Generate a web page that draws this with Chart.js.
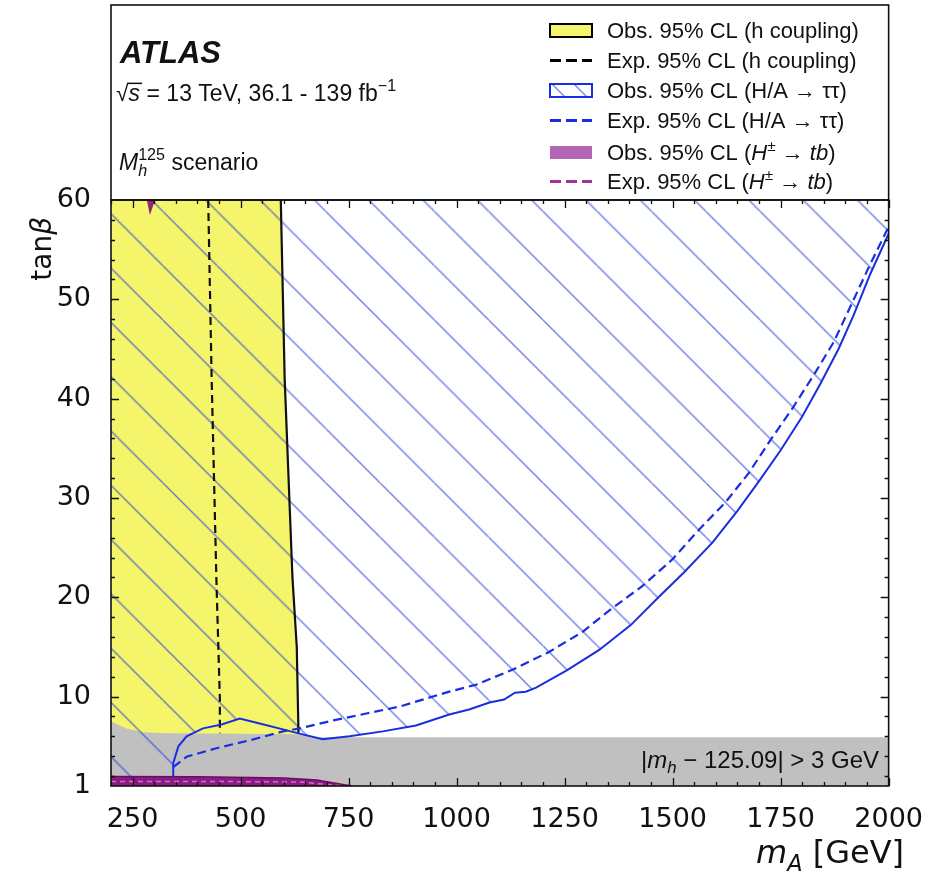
<!DOCTYPE html>
<html>
<head>
<meta charset="utf-8">
<script src="https://cdn.jsdelivr.net/npm/chart.js@4.4.0/dist/chart.umd.min.js"></script>
<style>
  body { margin: 0; background: #fff; }
  #wrap { width: 933px; height: 872px; }
</style>
</head>
<body>
<div id="wrap"><canvas id="limits"></canvas></div>
<script>
// axis ticks
const xTicks = [250, 500, 750, 1000, 1250, 1500, 1750, 2000];
const yTicks = [1, 10, 20, 30, 40, 50, 60];

// h coupling, observed (yellow region is left of this edge)
const hcObsMA   = [200, 593, 602, 620, 630, 634];
const hcObsTanb = [60, 60, 42, 22, 15, 6.3];
// h coupling, expected
const hcExpMA   = [425, 433, 444, 452, 452];
const hcExpTanb = [60, 42, 21.7, 9.7, 6.3];

// |mh - 125.09| > 3 GeV region, upper edge
const mhMA   = [200, 236, 274, 330, 500, 634, 680, 2000];
const mhTanb = [7.5, 6.8, 6.4, 6.3, 6.25, 6.2, 5.9, 5.9];

// H/A -> tautau, observed
const ttObsMA   = [344, 344, 356, 375, 413, 456, 498, 544, 598, 634, 690, 752, 829, 906, 983, 1029, 1076, 1110, 1135, 1160, 1184, 1257, 1330, 1403, 1465, 1526, 1592, 1650, 1700, 1750, 1800, 1842, 1884, 1919, 1958, 2000];
const ttObsTanb = [1.9, 3.3, 5.0, 6.0, 6.8, 7.2, 7.8, 7.3, 6.7, 6.3, 5.7, 6.0, 6.5, 7.1, 8.2, 8.7, 9.4, 9.7, 10.4, 10.5, 10.9, 12.7, 14.7, 17.2, 19.9, 22.5, 25.5, 28.7, 31.7, 34.8, 38.2, 41.5, 45.0, 48.4, 52.6, 56.6];
// H/A -> tautau, expected
const ttExpMA   = [344, 375, 444, 521, 598, 637, 714, 791, 868, 983, 1045, 1129, 1214, 1291, 1360, 1429, 1499, 1561, 1623, 1676, 1726, 1780, 1827, 1873, 1915, 1958, 2000];
const ttExpTanb = [2.9, 3.95, 4.8, 5.6, 6.5, 6.8, 7.6, 8.3, 9.0, 10.5, 11.2, 12.7, 14.5, 16.5, 18.9, 21.1, 23.8, 26.8, 29.6, 32.5, 35.8, 39.2, 42.4, 45.7, 49.6, 53.6, 57.3];

// H+- -> tb, observed (band at low tanb and a sliver at the top)
const hpObsMA   = [200, 400, 600, 676, 713, 740, 760];
const hpObsTanb = [1.95, 1.92, 1.8, 1.6, 1.33, 1.12, 1.0];
const hpTopMA   = [283, 290, 302];
const hpTopTanb = [60, 58.5, 60];
// H+- -> tb, expected
const hpExpMA   = [200, 450, 640, 700, 740];
const hpExpTanb = [1.45, 1.45, 1.4, 1.15, 1.0];

const YELLOW = '#f5f56b';
const GREY = '#c0c0c0';
const BLUE = '#1a2ee0';
const PURPLE = 'rgba(128,0,120,0.85)';
const PURPLE_LIGHT = '#b464b4';
const PURPLE_DASH = '#a0309a';
const HATCH = 'rgba(30,60,220,0.65)';

const pts = (xs, ys) => xs.map((x, i) => ({ x: x, y: ys[i] }));

function makeHatch() {
  const s = 54;
  const c = document.createElement('canvas');
  c.width = s; c.height = s;
  const g = c.getContext('2d');
  g.strokeStyle = HATCH;
  g.lineWidth = 1.4;
  for (let k = -1; k <= 1; k++) {
    g.beginPath();
    g.moveTo(k * s, 0);
    g.lineTo(k * s + s, s);
    g.stroke();
  }
  const p = g.createPattern(c, 'repeat');
  p.setTransform(new DOMMatrix([54.3 / s, 0, 0, 54.3 / s, 0, 48.5]));
  return p;
}

// draws a row of text pieces (italic, sub/superscript...) and returns width
function runs(ctx, x, y, parts, size, family, align) {
  const fontOf = p => (p.i ? 'italic ' : '') + (p.b ? 'bold ' : '') + (size * (p.s || 1)).toFixed(1) + 'px ' + family;
  let cx = 0, last = 0;
  const pos = parts.map(p => {
    ctx.font = fontOf(p);
    const w = ctx.measureText(p.t).width;
    const sx = p.over ? last : cx;
    last = sx;
    cx = Math.max(cx, sx + w);
    return { sx: sx, w: w };
  });
  const x0 = align === 'right' ? x - cx : x;
  ctx.textAlign = 'left';
  ctx.textBaseline = 'alphabetic';
  parts.forEach((p, i) => {
    ctx.font = fontOf(p);
    ctx.fillText(p.t, x0 + pos[i].sx, y + (p.dy || 0) * size);
    if (p.bar) ctx.fillRect(x0 + pos[i].sx - 1, y - 0.8 * size, pos[i].w + 3, 1.5);
  });
  return cx;
}

const legendRows = [
  { kind: 'box', fill: YELLOW, edge: '#000', text: [{ t: 'Obs. 95% CL (h coupling)' }] },
  { kind: 'dash', edge: '#000', text: [{ t: 'Exp. 95% CL (h coupling)' }] },
  { kind: 'hatch', edge: BLUE, text: [{ t: 'Obs. 95% CL (H/A \u2192 \u03c4\u03c4)' }] },
  { kind: 'dash', edge: BLUE, text: [{ t: 'Exp. 95% CL (H/A \u2192 \u03c4\u03c4)' }] },
  { kind: 'box', fill: PURPLE_LIGHT, edge: null, text: [{ t: 'Obs. 95% CL (' }, { t: 'H', i: 1 }, { t: '\u00b1', s: 0.7, dy: -0.42 }, { t: ' \u2192 ' }, { t: 'tb', i: 1 }, { t: ')' }] },
  { kind: 'dash', edge: PURPLE_DASH, text: [{ t: 'Exp. 95% CL (' }, { t: 'H', i: 1 }, { t: '\u00b1', s: 0.7, dy: -0.42 }, { t: ' \u2192 ' }, { t: 'tb', i: 1 }, { t: ')' }] }
];
const legendY = [30, 60, 90, 120, 152, 181];

const decor = {
  id: 'decor',
  afterDraw(chart) {
    const { ctx, chartArea: a, scales: { x, y } } = chart;
    ctx.save();

    // inward ticks on all four sides
    ctx.strokeStyle = '#111';
    ctx.lineWidth = 1.3;
    ctx.beginPath();
    for (let v = 200; v <= 2000; v += 50) {
      const len = v % 250 === 0 ? 8 : 4;
      const px = Math.round(x.getPixelForValue(v)) + 0.5;
      ctx.moveTo(px, a.bottom); ctx.lineTo(px, a.bottom - len);
      ctx.moveTo(px, a.top); ctx.lineTo(px, a.top + len);
    }
    for (let v = 2; v < 60; v += 2) {
      const len = v % 10 === 0 ? 8 : 4;
      const py = Math.round(y.getPixelForValue(v)) + 0.5;
      ctx.moveTo(a.left, py); ctx.lineTo(a.left + len, py);
      ctx.moveTo(a.right, py); ctx.lineTo(a.right - len, py);
    }
    ctx.stroke();

    // frames: plot and legend panel
    ctx.lineWidth = 1.6;
    ctx.strokeRect(a.left, a.top, a.right - a.left, a.bottom - a.top);
    ctx.strokeRect(a.left, 5, a.right - a.left, a.top - 5);

    ctx.fillStyle = '#111';
    // ATLAS label
    runs(ctx, 120, 63, [{ t: 'ATLAS', b: 1, i: 1 }], 31, 'Liberation Sans');
    runs(ctx, 116, 101, [{ t: '\u221a' }, { t: 's', i: 1, bar: 1 }, { t: ' = 13 TeV, 36.1 - 139 fb' }, { t: '\u22121', s: 0.7, dy: -0.42 }], 23, 'Liberation Sans');
    runs(ctx, 119, 170, [{ t: 'M', i: 1 }, { t: 'h', i: 1, s: 0.7, dy: 0.28 }, { t: '125', s: 0.7, dy: -0.42, over: 1 }, { t: ' scenario' }], 23, 'Liberation Sans');

    // legend
    const hx = 550, hw = 42, tx = 607;
    legendRows.forEach((r, i) => {
      const cy = legendY[i];
      ctx.save();
      if (r.kind === 'box' || r.kind === 'hatch') {
        ctx.fillStyle = r.kind === 'box' ? r.fill : '#fff';
        ctx.fillRect(hx, cy - 6, hw, 13);
        if (r.kind === 'hatch') {
          ctx.strokeStyle = HATCH;
          ctx.lineWidth = 1.2;
          ctx.beginPath();
          ctx.moveTo(hx + 2, cy - 6); ctx.lineTo(hx + 15, cy + 7);
          ctx.moveTo(hx + 24, cy - 6); ctx.lineTo(hx + 37, cy + 7);
          ctx.stroke();
        }
        if (r.edge) {
          ctx.strokeStyle = r.edge;
          ctx.lineWidth = 2;
          ctx.strokeRect(hx, cy - 6, hw, 13);
        }
      } else {
        ctx.strokeStyle = r.edge;
        ctx.lineWidth = 3;
        ctx.setLineDash([11, 5]);
        ctx.beginPath();
        ctx.moveTo(hx, cy + 0.5); ctx.lineTo(hx + hw, cy + 0.5);
        ctx.stroke();
      }
      ctx.restore();
      ctx.fillStyle = '#111';
      runs(ctx, tx, cy + 8, r.text, 22, 'Liberation Sans');
    });

    // mh window label
    runs(ctx, 879, 768, [{ t: '|' }, { t: 'm', i: 1 }, { t: 'h', i: 1, s: 0.7, dy: 0.22 }, { t: ' \u2212 125.09| > 3 GeV' }], 24, 'Liberation Sans', 'right');

    // axis titles
    runs(ctx, 904, 863, [{ t: 'm', i: 1 }, { t: 'A', i: 1, s: 0.7, dy: 0.25 }, { t: ' [GeV]' }], 32, 'DejaVu Sans', 'right');
    ctx.translate(51, 217);
    ctx.rotate(-Math.PI / 2);
    runs(ctx, 0, 0, [{ t: 'tan' }, { t: '\u03b2', i: 1 }], 28, 'DejaVu Sans', 'right');

    ctx.restore();
  }
};

const fillSet = (data, fill, color, order) => ({
  data: data, fill: fill, backgroundColor: color,
  borderWidth: 0, borderColor: 'rgba(0,0,0,0)', pointRadius: 0, order: order
});
const lineSet = (data, color, width, dash, order) => ({
  data: data, fill: false, borderColor: color, borderWidth: width,
  borderDash: dash, pointRadius: 0, order: order
});

const hatchEdge = pts([200, 344], [1, 1]).concat(pts(ttObsMA, ttObsTanb));
const tickFont = { family: 'DejaVu Sans', size: 27 };

new Chart(document.getElementById('limits'), {
  type: 'line',
  data: {
    datasets: [
      fillSet(pts(hcObsMA, hcObsTanb), 'start', YELLOW, 10),
      fillSet(pts(mhMA, mhTanb), 'start', GREY, 9),
      fillSet(hatchEdge, 'end', makeHatch(), 8),
      Object.assign(fillSet(pts(hpObsMA, hpObsTanb), 'start', PURPLE, 7), { borderColor: '#6e0a66', borderWidth: 1.5 }),
      fillSet(pts(hpTopMA, hpTopTanb), 'end', PURPLE, 6),
      lineSet(pts(hpExpMA, hpExpTanb), '#d070c8', 1.5, [5, 4], 5),
      lineSet(pts(hcObsMA.slice(1), hcObsTanb.slice(1)), '#111', 2.2, [], 4),
      lineSet(pts(hcExpMA, hcExpTanb), '#111', 2.2, [8, 5], 3),
      lineSet(pts(ttExpMA, ttExpTanb), BLUE, 2.2, [9, 5], 2),
      lineSet(pts(ttObsMA, ttObsTanb), BLUE, 2, [], 1)
    ]
  },
  options: {
    responsive: true,
    maintainAspectRatio: false,
    animation: false,
    events: [],
    layout: { padding: { top: 200, right: 43, left: 0, bottom: 0 } },
    elements: { line: { tension: 0 }, point: { radius: 0 } },
    plugins: { legend: { display: false }, tooltip: { enabled: false } },
    scales: {
      x: {
        type: 'linear', min: 200, max: 2000,
        afterBuildTicks: s => { s.ticks = xTicks.map(v => ({ value: v })); },
        afterFit: s => { s.height = 86; },
        grid: { display: false }, border: { display: false },
        ticks: { font: tickFont, color: '#111', padding: 10, maxRotation: 0, autoSkip: false, callback: v => String(v) }
      },
      y: {
        type: 'linear', min: 1, max: 60,
        afterBuildTicks: s => { s.ticks = yTicks.map(v => ({ value: v })); },
        afterFit: s => { s.width = 111; },
        grid: { display: false }, border: { display: false },
        ticks: { font: tickFont, color: '#111', padding: 12, autoSkip: false, callback: v => String(v) }
      }
    }
  },
  plugins: [decor]
});
</script>
</body>
</html>
